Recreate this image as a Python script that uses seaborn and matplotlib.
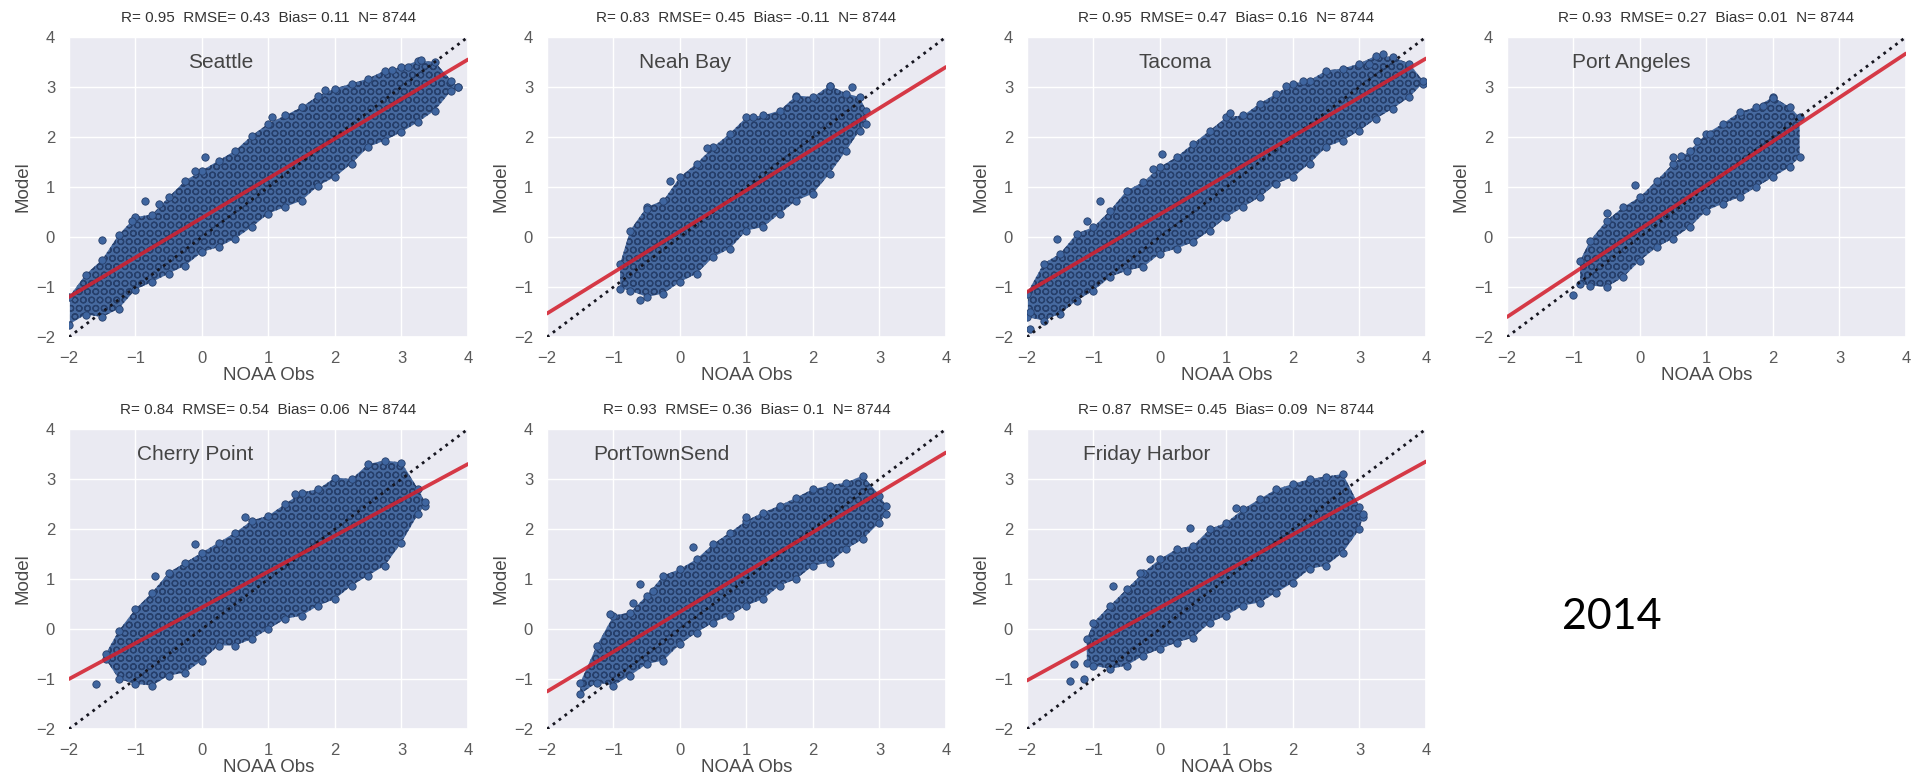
import numpy as np
import pandas as pd
import seaborn as sns
import matplotlib
matplotlib.use('Agg')
import matplotlib.pyplot as plt

# station names and stats printed above each panel
stations = ['Seattle', 'Neah Bay', 'Tacoma', 'Port Angeles', 'Cherry Point', 'PortTownSend', 'Friday Harbor']
r_vals = ['0.95', '0.83', '0.95', '0.93', '0.84', '0.93', '0.87']
rmse_vals = ['0.43', '0.45', '0.47', '0.27', '0.54', '0.36', '0.45']
bias_vals = ['0.11', '-0.11', '0.16', '0.01', '0.06', '0.1', '0.09']
n_vals = ['8744'] * 7

# extent of each point cloud: obs, lowest model, highest model
seattle_obs = [-2, -1.75, -1.5, -1.25, -1, -0.75, -0.5, -0.25, 0, 0.25, 0.5, 0.75, 1, 1.25, 1.5, 1.75, 2, 2.25, 2.5, 2.75, 3, 3.25, 3.5, 3.75, 3.85]
seattle_low = [-1.75, -1.55, -1.6, -1.43, -1.05, -0.9, -0.73, -0.57, -0.3, -0.2, -0.03, 0.2, 0.47, 0.6, 0.73, 1.03, 1.2, 1.47, 1.8, 1.93, 2.1, 2.3, 2.53, 2.93, 3.0]
seattle_high = [-1.2, -0.75, -0.45, 0.05, 0.4, 0.45, 0.8, 1.13, 1.33, 1.53, 1.73, 2.03, 2.27, 2.43, 2.6, 2.83, 2.97, 3.07, 3.17, 3.33, 3.4, 3.53, 3.5, 3.13, 3.0]
seattle_out_x = [-1.5, -1.05, -0.85, -0.65, 0.05, -0.1, 1.05, 1.85, 2.85, 3.1, 3.3]
seattle_out_y = [-0.05, 0.32, 0.72, 0.67, 1.6, 1.33, 2.4, 2.95, 3.35, 3.4, 3.55]

neah_obs = [-0.9, -0.75, -0.5, -0.25, 0, 0.25, 0.5, 0.75, 1, 1.25, 1.5, 1.75, 2, 2.25, 2.5, 2.7, 2.8]
neah_low = [-1.03, -1.07, -1.2, -1.13, -0.9, -0.73, -0.4, -0.23, 0.13, 0.2, 0.47, 0.73, 0.87, 1.27, 1.73, 2.13, 2.27]
neah_high = [-0.53, 0.13, 0.6, 0.73, 1.2, 1.47, 1.8, 2.07, 2.4, 2.43, 2.53, 2.83, 2.8, 3.03, 2.87, 2.8, 2.53]
neah_out_x = [0.4, 1.1, 1.75, 2.25, 2.58, -0.15, -0.6, -0.5]
neah_out_y = [1.78, 2.4, 2.8, 3.03, 3.0, 1.13, -1.25, 0.57]

tacoma_obs = [-2, -1.75, -1.5, -1.25, -1, -0.75, -0.5, -0.25, 0, 0.25, 0.5, 0.75, 1, 1.25, 1.5, 1.75, 2, 2.25, 2.5, 2.75, 3, 3.25, 3.5, 3.75, 3.95]
tacoma_low = [-1.6, -1.67, -1.53, -1.27, -1.07, -0.8, -0.67, -0.6, -0.33, -0.23, -0.1, 0.13, 0.4, 0.6, 0.8, 1.07, 1.2, 1.47, 1.8, 1.93, 2.13, 2.37, 2.57, 2.8, 3.07]
tacoma_high = [-1.13, -0.53, -0.33, 0.07, 0.2, 0.53, 0.93, 1.1, 1.4, 1.6, 1.87, 2.13, 2.4, 2.43, 2.67, 2.87, 3.07, 3.13, 3.33, 3.37, 3.47, 3.63, 3.6, 3.47, 3.13]
tacoma_out_x = [-1.55, -1.1, -0.9, 0.03, -0.1, 1.05, 1.9, 2.15, 3.15, 3.35, -1.95, -1.95]
tacoma_out_y = [-0.03, 0.33, 0.73, 1.67, 1.37, 2.47, 3.03, 3.13, 3.47, 3.67, -1.83, -1.5]

angeles_obs = [-0.9, -0.75, -0.5, -0.25, 0, 0.25, 0.5, 0.75, 1, 1.25, 1.5, 1.75, 2, 2.25, 2.4]
angeles_low = [-0.93, -0.97, -1, -0.8, -0.47, -0.2, -0.03, 0.2, 0.53, 0.67, 0.8, 1.0, 1.2, 1.4, 1.6]
angeles_high = [-0.47, -0.07, 0.33, 0.6, 0.8, 1.13, 1.47, 1.73, 2.07, 2.27, 2.5, 2.6, 2.8, 2.6, 2.4]
angeles_out_x = [-0.08, -0.5, -1.0, 0.5, 0.62, 0.85, 1.05, 1.85, 2]
angeles_out_y = [1.05, 0.48, -1.15, 1.6, 1.62, 1.93, 2.07, 2.63, 2.78]

cherry_obs = [-1.45, -1.25, -1, -0.75, -0.5, -0.25, 0, 0.25, 0.5, 0.75, 1, 1.25, 1.5, 1.75, 2, 2.25, 2.5, 2.75, 3, 3.25, 3.35]
cherry_low = [-0.6, -1, -1.1, -1.13, -0.93, -0.87, -0.63, -0.33, -0.33, -0.2, 0, 0.2, 0.27, 0.47, 0.6, 0.87, 1.07, 1.27, 1.73, 2.3, 2.47]
cherry_high = [-0.5, -0.03, 0.4, 0.73, 1.13, 1.33, 1.53, 1.73, 1.93, 2.17, 2.27, 2.5, 2.73, 2.8, 3.03, 3, 3.3, 3.37, 3.33, 2.8, 2.55]
cherry_out_x = [-1.6, -0.7, -0.1, 0.65, 1.4]
cherry_out_y = [-1.1, 1.07, 1.7, 2.25, 2.7]

town_obs = [-1.5, -1.25, -1, -0.75, -0.5, -0.25, 0, 0.25, 0.5, 0.75, 1, 1.25, 1.5, 1.75, 2, 2.25, 2.5, 2.75, 3, 3.1]
town_low = [-1.3, -1.07, -1.13, -0.93, -0.7, -0.63, -0.3, -0.07, 0.13, 0.27, 0.47, 0.6, 0.87, 1, 1.27, 1.33, 1.6, 1.8, 2.13, 2.3]
town_high = [-1.07, -0.33, 0.27, 0.33, 0.67, 1.07, 1.2, 1.4, 1.7, 1.93, 2.17, 2.33, 2.47, 2.63, 2.8, 2.87, 2.93, 3.07, 2.67, 2.47]
town_out_x = [-0.6, -0.4, -0.7, -1.05, 0.2, 1]
town_out_y = [0.9, 0.77, 0.52, 0.3, 1.65, 2.25]

friday_obs = [-1.1, -1, -0.75, -0.5, -0.25, 0, 0.25, 0.5, 0.75, 1, 1.25, 1.5, 1.75, 2, 2.25, 2.5, 2.75, 3, 3.05]
friday_low = [-0.67, -0.73, -0.8, -0.73, -0.53, -0.4, -0.27, -0.17, 0.13, 0.27, 0.47, 0.53, 0.73, 0.93, 1.2, 1.27, 1.53, 2, 2.25]
friday_high = [-0.2, 0.13, 0.47, 0.8, 1.13, 1.4, 1.6, 1.67, 2, 2.13, 2.4, 2.6, 2.8, 2.9, 3, 3.05, 3.1, 2.45, 2.3]
friday_out_x = [-1.35, -1.3, -1.15, -0.7, -0.15, -0.3, 0.45, 1.15]
friday_out_y = [-1.03, -0.7, -1.0, 0.87, 1.4, 1.13, 2.03, 2.43]

# red fit line: model value at obs=-2 and obs=4
fit_x = [-2, 4]
fit_start = [-1.2, -1.53, -1.1, -1.6, -1.0, -1.25, -1.03]
fit_end = [3.55, 3.4, 3.57, 3.67, 3.3, 3.53, 3.35]
one_to_one = [-2, 4]
ticks = [-2, -1, 0, 1, 2, 3, 4]

clouds = [
    (seattle_obs, seattle_low, seattle_high, seattle_out_x, seattle_out_y),
    (neah_obs, neah_low, neah_high, neah_out_x, neah_out_y),
    (tacoma_obs, tacoma_low, tacoma_high, tacoma_out_x, tacoma_out_y),
    (angeles_obs, angeles_low, angeles_high, angeles_out_x, angeles_out_y),
    (cherry_obs, cherry_low, cherry_high, cherry_out_x, cherry_out_y),
    (town_obs, town_low, town_high, town_out_x, town_out_y),
    (friday_obs, friday_low, friday_high, friday_out_x, friday_out_y),
]

# layout in pixels of the 1915x780 picture
W, H = 1915, 780
left_px = [69, 547, 1027, 1507, 69, 547, 1027]
top_px = [37, 37, 37, 37, 429, 429, 429]
axw_px, axh_px = 399, 300
name_x = [0.28, 0.08, 0.22, -0.13, -0.11, -0.28, -0.2]

sns.set_theme(style='darkgrid')
plt.rcParams['font.family'] = ['Liberation Sans', 'DejaVu Sans']
plt.rcParams['hatch.linewidth'] = 0.9

fig = plt.figure(figsize=(W / 100, H / 100), dpi=100)

for i, name in enumerate(stations):
    ax = fig.add_axes([left_px[i] / W, 1 - (top_px[i] + axh_px) / H, axw_px / W, axh_px / H])
    obs, low, high, out_x, out_y = clouds[i]

    # body of the cloud, the edge points and stray points go on top
    ax.fill_between(obs, low, high, facecolor='#46699f', edgecolor='#263f6b', hatch='OO', linewidth=0, zorder=2)
    pts = pd.DataFrame({'obs': list(obs) + list(obs) + list(out_x),
                        'model': list(low) + list(high) + list(out_y)})
    sns.scatterplot(data=pts, x='obs', y='model', ax=ax, s=28, color='#3f659f',
                    edgecolor='#263f6b', linewidth=0.6, zorder=3)
    sns.lineplot(x=one_to_one, y=one_to_one, ax=ax, color='#15151f', linestyle=':', linewidth=2, zorder=4)
    sns.lineplot(x=fit_x, y=[fit_start[i], fit_end[i]], ax=ax, color='#d3202e', linewidth=2.7, alpha=0.88, zorder=5)

    ax.set_xlim(-2, 4)
    ax.set_ylim(-2, 4)
    ax.set_xticks(ticks)
    ax.set_yticks(ticks)
    ax.tick_params(labelsize=12, labelcolor='#5a5a5a', pad=4)
    ax.set_xlabel('NOAA Obs', fontsize=13.5, color='#4a4a4a', labelpad=1)
    ax.set_ylabel('Model', fontsize=13.5, color='#4a4a4a', labelpad=3)
    ax.set_title(f'R= {r_vals[i]}  RMSE= {rmse_vals[i]}  Bias= {bias_vals[i]}  N= {n_vals[i]}',
                 fontsize=11, color='#333333', pad=11)
    ax.text(name_x[i], 3.5, name, fontsize=15, color='#444444', ha='center', va='center', zorder=6)

fig.text(1612 / W, 1 - 617 / H, '2014', fontsize=31, family='Lato', color='black', ha='center', va='center')

fig.savefig('out.png', dpi=100)
